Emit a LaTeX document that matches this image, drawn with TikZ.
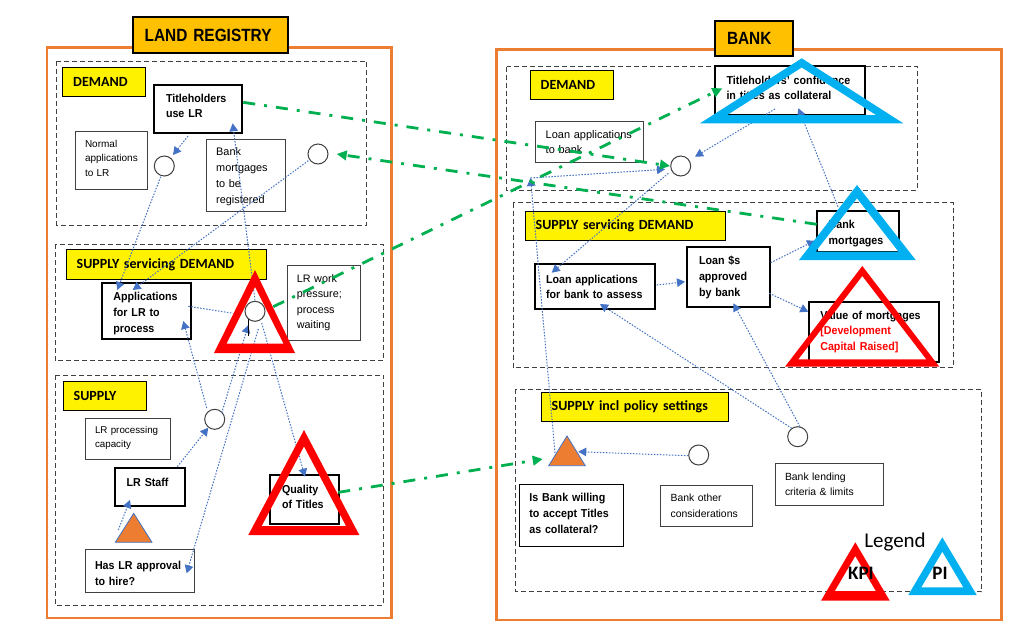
\documentclass[tikz,border=0pt]{standalone}
\usepackage{fontspec}
\usetikzlibrary{arrows.meta,calc}
\setmainfont{Liberation Sans}
\newfontfamily\boxb[FakeStretch=0.93]{Liberation Sans}
\newfontfamily\titl[FakeStretch=0.87]{Liberation Sans}
\newfontfamily\cali{Carlito}
\newcommand{\rf}[2]{\fontsize{#1}{#2}\selectfont}
% move a box's text: \lft{2d} at its end lifts it by d; \dwn{h} at its start makes the first line h tall, which lowers it
\newcommand{\lft}[1]{\par\vspace{#1}\hrule height 0pt\relax}
\newcommand{\dwn}[1]{\rule{0pt}{#1}}
\definecolor{orfr}{HTML}{ED7D31}
\definecolor{goldt}{HTML}{FFC000}
\definecolor{bluel}{HTML}{4472C4}
\definecolor{greenl}{HTML}{00B050}
\definecolor{cyant}{HTML}{00B0F0}
\definecolor{darkg}{HTML}{404040}
\pgfdeclarelayer{top}
\pgfsetlayers{main,top}
\tikzset{
  basebox/.style={draw,rectangle,outer sep=0pt,inner ysep=0pt,align=left},
  rbox/.style={basebox,draw=darkg,line width=0.9pt,fill=white,font={\rf{10.8}{15.5}}},
  sbox/.style={basebox,draw=black,line width=1.8pt,fill=white,font={\boxb\bfseries\rf{11.5}{15.5}}},
  tbox/.style={basebox,draw=black,line width=1pt,fill=white,font={\boxb\bfseries\rf{11.5}{16}}},
  ybox/.style={basebox,draw=black,line width=0.9pt,fill=yellow,font={\cali\bfseries\rf{14}{16}}},
  gbox/.style={basebox,draw=black,line width=1.8pt,fill=goldt,font={\titl\bfseries\rf{17.7}{20}}},
  dframe/.style={draw=darkg,line width=1pt,dash pattern=on 5pt off 3pt},
  oframe/.style={draw=orfr,line width=2.6pt},
  junc/.style={draw=darkg,line width=1pt,fill=white,circle,minimum size=20pt,inner sep=0pt,outer sep=0pt},
  bl/.style={draw=bluel,line width=1pt,dash pattern=on 1.5pt off 1.5pt,
    -{Triangle[length=8pt,width=8.5pt,fill=bluel,color=bluel]}},
  blplain/.style={draw=bluel,line width=1pt,dash pattern=on 1.5pt off 1.5pt},
  gr/.style={draw=greenl,line width=2.8pt,dash pattern=on 12pt off 9pt on 3pt off 9pt,
    -{Triangle[length=10pt,width=9.5pt,fill=greenl,color=greenl]}},
  redt/.style={fill=red,even odd rule},
  bluet/.style={fill=cyant,even odd rule},
  oranget/.style={fill=orfr,draw=bluel,line width=0.8pt},
  legt/.style={font={\cali\bfseries\rf{19}{20}},inner sep=0pt}
}
% [style]{name}{x1}{y1}{x2}{y2}{inset}{text}
\newcommand{\mybox}[8][]{%
  \pgfmathsetmacro\wwv{#5-#3}%
  \pgfmathsetmacro\hhv{#6-#4}%
  \pgfmathsetmacro\ttv{#5-#3-2*#7}%
  \node[#1,anchor=north west,minimum width=\wwv pt,minimum height=\hhv pt,
        text width=\ttv pt,inner xsep=#7pt] (#2) at (#3,#4) {#8};}
\begin{document}
\begin{tikzpicture}[x=1pt,y=-1pt]
\useasboundingbox (0,0) rectangle (1016,634);
\fill[white] (0,0) rectangle (1016,634);

% frames
\draw[oframe] (47,47.7) rectangle (391.7,618);
\draw[oframe] (496.7,49.3) rectangle (1001.7,620);
\draw[dframe] (56.7,61) rectangle (366.7,225);
\draw[dframe] (55,244) rectangle (383.3,360.7);
\draw[dframe] (55,375) rectangle (383.3,605);
\draw[dframe] (506.7,66.7) rectangle (917.3,190);
\draw[dframe] (513.3,202.7) rectangle (953.3,367.7);
\draw[dframe] (515.3,389.3) rectangle (981.7,591.7);

% titles
\mybox[gbox]{lrt}{132.7}{17.3}{288}{53}{12}{LAND REGISTRY}
\mybox[gbox]{bkt}{715}{20.7}{792.7}{56}{12}{BANK}

% section labels
\mybox[ybox]{y1}{62.7}{67}{145.7}{96}{10.5}{DEMAND}
\mybox[ybox]{y2}{66.7}{249.7}{266.7}{279}{10}{SUPPLY servicing DEMAND}
\mybox[ybox]{y3}{63.7}{381}{146.7}{410.3}{10}{SUPPLY}
\mybox[ybox]{y4}{530.7}{70.3}{613.3}{99.3}{10}{DEMAND}
\mybox[ybox]{y5}{525.7}{211.7}{725.7}{240.7}{10}{SUPPLY servicing DEMAND}
\mybox[ybox]{y6}{541.7}{392.3}{728.3}{421.3}{10}{SUPPLY incl policy settings}

% land registry boxes
\mybox[sbox]{tu}{154}{84.7}{241.7}{133}{12}{Titleholders\\use LR\lft{6pt}}
\mybox[rbox,font={\rf{10}{14.3}}]{na}{75}{131.7}{147.7}{189}{10}{Normal\\applications\\to LR\lft{4pt}}
\mybox[rbox,font={\rf{10.9}{16}}]{bg}{206.7}{139.7}{285.3}{211}{9.5}{\dwn{10pt}Bank\\mortgages\\to be\\registered}
\mybox[sbox,font={\boxb\bfseries\rf{11.5}{16}}]{ap}{101.7}{283.3}{191}{339}{11.7}{\dwn{12.4pt}Applications\\for LR to\\process}
\mybox[rbox,font={\rf{10.8}{15.3}}]{wp}{287.3}{265}{360.7}{340.3}{9.5}{LR work\\pressure;\\process\\waiting}
\mybox[rbox,font={\rf{9.8}{14}}]{pc}{85}{418.3}{170}{459}{10}{LR processing\\capacity\lft{2pt}}
\mybox[sbox]{ls}{114.7}{468.3}{185}{506}{12}{LR Staff\lft{10pt}}
\mybox[tbox,draw=darkg]{hl}{85}{549.7}{194.3}{592}{10}{\dwn{12.4pt}Has LR approval\\to hire?}
\mybox[sbox]{qt}{270}{475}{339.3}{523.7}{12}{Quality\\of Titles\lft{5pt}}

% bank boxes
\mybox[sbox]{tc}{715}{66}{865}{115}{11.5}{Titleholders’ confidence\\in titles as collateral\lft{5pt}}
\mybox[rbox,font={\rf{11}{15}}]{lb}{535.7}{121.7}{643.7}{162.7}{10}{Loan applications\\to bank}
\mybox[sbox]{la}{535}{264.3}{655}{309}{11}{Loan applications\\for bank to assess}
\mybox[sbox,font={\boxb\bfseries\rf{11.5}{16}}]{ln}{687.3}{247}{769.7}{307}{11.7}{Loan \$s\\approved\\by bank}
\mybox[sbox]{bm}{816.7}{211}{899}{252}{12}{\dwn{12.4pt}Bank\\mortgages}
\mybox[sbox,font={\boxb\bfseries\rf{11.5}{15.5}}]{vm}{809.3}{301.7}{939.3}{361.7}{11}{Value of mortgages\\\textcolor{red}{[Development}\\\textcolor{red}{Capital Raised]}}
\mybox[tbox]{ib}{519.3}{484}{623.7}{546.7}{10}{Is Bank willing\\to accept Titles\\as collateral?\lft{4pt}}
\mybox[rbox,font={\rf{10.4}{16}}]{bo}{660.7}{485}{752.7}{526.3}{10}{Bank other\\considerations}
\mybox[rbox,font={\rf{10.4}{15}}]{bl}{775}{463.7}{883.3}{505.3}{10}{Bank lending\\criteria \& limits}

% junctions
\node[junc] (c1) at (164.3,166) {};
\node[junc] (c2) at (318,154) {};
\node[junc] (c4) at (214.7,419.3) {};
\node[junc] (c5) at (680.7,166) {};
\node[junc] (c6) at (797.7,436.7) {};
\node[junc] (c7) at (698.7,455) {};

% orange triangles
\draw[oranget] (133.7,513.3) -- (115.3,542.3) -- (152,542.3) -- cycle;
\coordinate (ot1) at (133.7,532);
\draw[oranget] (567,436) -- (548.7,465.7) -- (585.3,465.7) -- cycle;
\coordinate (ot2) at (567,456);
\coordinate (jn) at (530.5,178);

% KPI and PI triangles, and the junction that sits on one
\begin{pgfonlayer}{top}
\fill[redt] (255,270) -- (214,353) -- (295,353) -- cycle (255,287) -- (226.5,343.7) -- (283.5,343.7) -- cycle;
\node[junc] (c3) at (255,311.3) {};
\fill[redt] (304,430) -- (248.3,535) -- (359.3,535) -- cycle (304,446.4) -- (261.7,526) -- (346,526) -- cycle;
\fill[bluet] (801.7,58.3) -- (700,123.3) -- (903.3,123.3) -- cycle (801.7,67.5) -- (727.3,115) -- (876,115) -- cycle;
\fill[bluet] (857,185) -- (799,260) -- (915.7,260) -- cycle (857,198.3) -- (815.5,251.7) -- (898.5,251.7) -- cycle;
\fill[redt] (862.3,266) -- (785,366.7) -- (939.3,366.7) -- cycle (862.3,276) -- (798.3,359.3) -- (926.3,359.3) -- cycle;
\fill[redt] (855.3,542.3) -- (821,600.7) -- (889.7,600.7) -- cycle (855.3,556) -- (834.8,591) -- (875.8,591) -- cycle;
\fill[bluet] (942.3,537.3) -- (908.3,595) -- (976.7,595) -- cycle (942.3,551.7) -- (921.3,587.3) -- (963.3,587.3) -- cycle;
\node[legt] (kpi) at (861,573.3) {KPI};
\node[legt] (pi) at (940,573.3) {PI};
\node[font={\cali\rf{21}{22}},inner sep=0pt] (leg) at (895,542) {Legend};
\end{pgfonlayer}

% blue connectors, land registry
\draw[bl] ($(tu.south west)+(34,3)$) -- ($(c1)+(8.7,-11)$);
\draw[bl] ($(c1)+(-3.6,10.7)$) -- ($(ap.north west)+(15.6,6.7)$);
\draw[bl] ($(c2)+(-9.7,6.7)$) -- ($(ap.north west)+(31,6.7)$);
\draw[bl] ($(c3)+(0,-11)$) -- ($(tu.south west)+(78.7,-9.7)$);
\draw[blplain] ($(ap.north east)+(-2.7,23)$) -- ($(c3)+(-21.7,2)$);
\draw[bl] ($(c4)+(-8,-11.3)$) -- ($(ap.south east)+(-7.7,-18)$);
\draw[bl] ($(c4)+(7,-6.3)$) -- ($(c3)+(-6.7,13.7)$);
\draw[bl] ($(c3)+(3.3,17.7)$) -- ($(hl.north east)+(-7.6,23.6)$);
\draw[bl] ($(c3)+(6.7,11.7)$) -- ($(qt.north west)+(35,1.7)$);
\draw[bl] ($(ls.north west)+(62.6,-1.6)$) -- ($(c4)+(-6.4,8.4)$);
\draw[bl] ($(ot1)+(-15.4,-2)$) -- ($(ls.south west)+(15.3,-6)$);
\draw[black,line width=1pt] ($(c3)+(-6.7,7)$) -- ++(0,18);

% blue connectors, bank
\draw[bl] ($(ot2)+(-12,-3)$) -- (jn);
\draw[bl] (jn) -- ($(c5)+(-15.7,3.3)$);
\draw[bl] ($(tc.south west)+(60,-6)$) -- ($(c5)+(14.3,-9.3)$);
\draw[bl] ($(bm.north west)+(21.3,-4.3)$) -- ($(tc.south west)+(83.3,-6.7)$);
\draw[bl] ($(c5)+(-12.4,7.3)$) -- ($(la.north west)+(16.7,8.4)$);
\draw[bl] ($(la.east)+(1.7,-1.6)$) -- ($(ln.west)+(-2.3,4.7)$);
\draw[bl] ($(ln.north east)+(1,15.7)$) -- ($(bm.south west)+(-1.7,-11.3)$);
\draw[bl] ($(ln.south east)+(-0.4,-13.7)$) -- ($(vm.north west)+(-1,10)$);
\draw[bl] ($(c6)+(-6,-8.4)$) -- ($(la.south west)+(65,-5)$);
\draw[bl] ($(c6)+(2.3,-10)$) -- ($(ln.south west)+(46,-3.7)$);
\draw[bl] ($(c7)+(-10.4,0.7)$) -- ($(ot2)+(11.3,-4.3)$);

% green connectors
\draw[gr] ($(tu.east)+(1.6,-6.5)$) -- ($(c5)+(-10.7,0)$);
\draw[gr] ($(bm.west)+(0,-7.2)$) -- ($(c2)+(18.7,0)$);
\draw[gr] ($(c3)+(18.3,-4.6)$) -- ($(tc.west)+(7.3,-2.2)$);
\draw[gr] ($(qt.east)+(-1,-7)$) -- ($(ot2)+(-24.3,3)$);
\end{tikzpicture}
\end{document}
